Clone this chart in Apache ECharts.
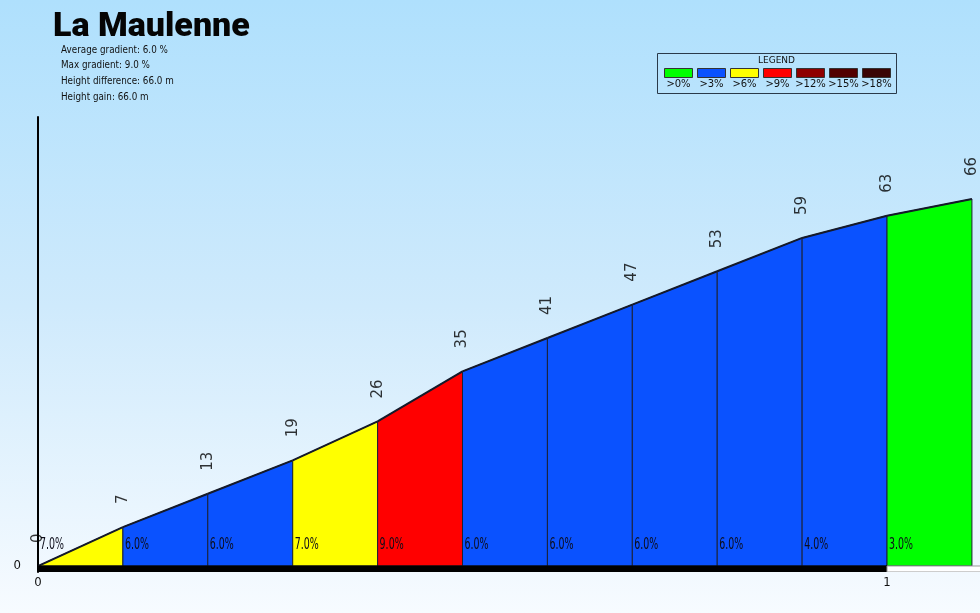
<!DOCTYPE html>
<html><head><meta charset="utf-8">
<script src="https://cdn.jsdelivr.net/npm/echarts@6/dist/echarts.min.js"></script>
<style>html,body{margin:0;padding:0;}
#c{width:980px;height:613px;background:linear-gradient(to bottom,#afe0fd 0%,#cfeafc 50%,#f7fbff 100%);}
</style></head><body><div id="c"></div>
<script>
const titleText = 'La Maulenne';
const statLines = ['Average gradient: 6.0 %', 'Max gradient: 9.0 %', 'Height difference: 66.0 m', 'Height gain: 66.0 m'];
const distances = [0, 0.1, 0.2, 0.3, 0.4, 0.5, 0.6, 0.7, 0.8, 0.9, 1.0, 1.1];
const elevations = [0, 7, 13, 19, 26, 35, 41, 47, 53, 59, 63, 66];
const gradientLabels = ['7.0%', '6.0%', '6.0%', '7.0%', '9.0%', '6.0%', '6.0%', '6.0%', '6.0%', '4.0%', '3.0%'];
const segmentClass = [2, 1, 1, 2, 3, 1, 1, 1, 1, 1, 0];
const legendLabels = ['>0%', '>3%', '>6%', '>9%', '>12%', '>15%', '>18%'];
const legendColors = ['#00ff00', '#0a52ff', '#ffff00', '#ff0000', '#8e0000', '#520000', '#3a0505'];
const kmBandStarts = [0, 1];
const kmBandEnds = [1, 2];
const kmBandColors = ['#000000', '#ffffff'];
const xTickValues = [0, 1];
const yTickValues = [0];

const chart = echarts.init(document.getElementById('c'), null, {renderer: 'canvas'});
const sans = '"DejaVu Sans", sans-serif';
const Y_MIN = -1.08, Y_MAX = 80.75, X_MAX = 1.1095;

const segData = gradientLabels.map((g, i) => [distances[i], distances[i + 1], elevations[i], elevations[i + 1], segmentClass[i], i]);
const bandData = kmBandStarts.map((s, i) => [s, kmBandEnds[i], i]);

const graphics = [];
graphics.push({type: 'text', left: 53, top: 10, style: {text: titleText, font: '900 34px Roboto, sans-serif', fill: '#050505'}});
statLines.forEach((t, i) => graphics.push({type: 'text', x: 61, y: 50 + i * 15.6, scaleX: 0.8,
  style: {text: t, font: '11px ' + sans, fill: '#111', verticalAlign: 'middle'}}));
const legChildren = [{type: 'rect', shape: {x: 0, y: 0, width: 239, height: 40}, style: {fill: 'rgba(0,0,0,0)', stroke: '#2a3a4a', lineWidth: 1}},
  {type: 'text', x: 119, y: 7, style: {text: 'LEGEND', font: '9px ' + sans, fill: '#111', align: 'center', verticalAlign: 'middle'}}];
legendLabels.forEach((l, i) => {
  legChildren.push({type: 'rect', shape: {x: 7 + 33 * i, y: 15, width: 28, height: 9}, style: {fill: legendColors[i], stroke: '#333', lineWidth: 1}});
  legChildren.push({type: 'text', x: 21 + 33 * i, y: 31, style: {text: l, font: '10px ' + sans, fill: '#111', align: 'center', verticalAlign: 'middle'}});
});
graphics.push({type: 'group', left: 657, top: 53, children: legChildren});

chart.setOption({
  animation: false,
  backgroundColor: 'transparent',
  grid: {left: 38, right: 0, top: 117, bottom: 41, containLabel: false},
  xAxis: {type: 'value', min: 0, max: X_MAX, splitLine: {show: false}, axisLine: {show: false}, axisTick: {show: false},
    axisLabel: {customValues: xTickValues, formatter: v => String(Math.round(v)), color: '#111', fontSize: 13, fontFamily: '"DejaVu Sans Condensed", ' + sans, margin: 4}},
  yAxis: {type: 'value', min: Y_MIN, max: Y_MAX, splitLine: {show: false}, axisTick: {show: false},
    axisLine: {show: true, lineStyle: {color: '#000', width: 2}},
    axisLabel: {customValues: yTickValues, formatter: v => String(Math.round(v)), color: '#111', fontSize: 13, fontFamily: '"DejaVu Sans Condensed", ' + sans, margin: 17}},
  graphic: graphics,
  series: [
    {type: 'custom', clip: true, data: segData, z: 2,
      renderItem: (params, api) => {
        const x0 = api.value(0), x1 = api.value(1), e0 = api.value(2), e1 = api.value(3), cls = api.value(4), idx = api.value(5);
        const b0 = api.coord([x0, 0]), t0 = api.coord([x0, e0]), t1 = api.coord([x1, e1]), b1 = api.coord([x1, 0]);
        return {type: 'group', children: [
          {type: 'polygon', shape: {points: [b0, t0, t1, b1]}, style: {fill: legendColors[cls], stroke: '#1b2236', lineWidth: 1}},
          {type: 'line', shape: {x1: t0[0], y1: t0[1], x2: t1[0], y2: t1[1]}, style: {stroke: '#151a2a', lineWidth: 2}},
          {type: 'text', x: b0[0] + 2, y: b0[1] - 21, scaleX: 0.63,
            style: {text: gradientLabels[idx], font: '15px ' + sans, fill: '#0d0d1a', align: 'left', verticalAlign: 'middle'}}
        ]};
      }},
    {type: 'custom', clip: true, data: bandData, z: 3,
      renderItem: (params, api) => {
        const s = api.value(0), e = api.value(1), i = api.value(2);
        const p0 = api.coord([s, 0]), p1 = api.coord([e, Y_MIN]);
        return {type: 'rect', shape: {x: p0[0], y: p0[1], width: p1[0] - p0[0], height: p1[1] - p0[1]},
          style: {fill: kmBandColors[i], stroke: i % 2 ? '#9a9a9a' : '#000', lineWidth: 1}};
      }},
    {type: 'scatter', data: distances.map((d, i) => [d, elevations[i]]), symbolSize: 0, z: 4, clip: false,
      label: {show: true, formatter: p => String(elevations[p.dataIndex]), position: 'top', distance: 23, rotate: 90,
        align: 'left', verticalAlign: 'middle', color: '#000', fontSize: 15, fontFamily: sans}}
  ]
});
</script></body></html>
